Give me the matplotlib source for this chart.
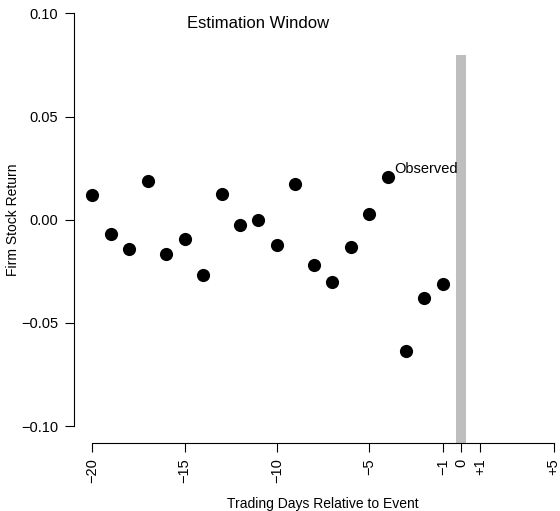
import numpy as np
import matplotlib.pyplot as plt

plt.rcParams['font.family'] = ['Liberation Sans', 'DejaVu Sans']

# Trading days and observed firm returns
days = np.arange(-20, 0)
returns = np.array([0.0121, -0.0068, -0.0142, 0.0189, -0.0166, -0.0094, -0.0266,
                    0.0126, -0.0024, 0.0000, -0.0121, 0.0173, -0.0220, -0.0300,
                    -0.0130, 0.0027, 0.0207, -0.0638, -0.0380, -0.0313])

xticks = [-20, -15, -10, -5, -1, 0, 1, 5]
xticklabels = ['\u221220', '\u221215', '\u221210', '\u22125', '\u22121', '0', '+1', '+5']
yticks = [-0.10, -0.05, 0.00, 0.05, 0.10]
yticklabels = ['\u22120.10', '\u22120.05', '0.00', '0.05', '0.10']

fig = plt.figure(figsize=(5.6, 5.11), dpi=100)
ax = fig.add_axes([0.1321, 0.134, 0.8893, 0.872])
ax.set_xlim(-21, 6)
ax.set_ylim(-0.108, 0.108)

# event day bar
ax.bar(0, 0.08 + 0.108, bottom=-0.108, width=0.56, color='#BEBEBE', zorder=1)

ax.scatter(days, returns, s=90, color='black', zorder=3, linewidths=0)

ax.text(-3.65, 0.0226, 'Observed', fontsize=10.5, ha='left', va='baseline')
ax.text(-11.02, 0.0927, 'Estimation Window', fontsize=12, ha='center', va='baseline')

for s in ['top', 'right']:
    ax.spines[s].set_visible(False)
ax.spines['bottom'].set_bounds(-20, 5)
ax.spines['left'].set_bounds(-0.1, 0.1)

ax.set_xticks(xticks)
ax.set_xticklabels(xticklabels, rotation=90)
ax.set_yticks(yticks)
ax.set_yticklabels(yticklabels)
ax.tick_params(length=6.5, width=0.8, labelsize=10.5, pad=5)

ax.set_xlabel('Trading Days Relative to Event', fontsize=10, va='center')
ax.xaxis.set_label_coords(0.5, -0.137)
ax.set_ylabel('Firm Stock Return', fontsize=10, va='center')
ax.yaxis.set_label_coords(-0.1225, 0.5)

fig.savefig('out.png', dpi=100)
